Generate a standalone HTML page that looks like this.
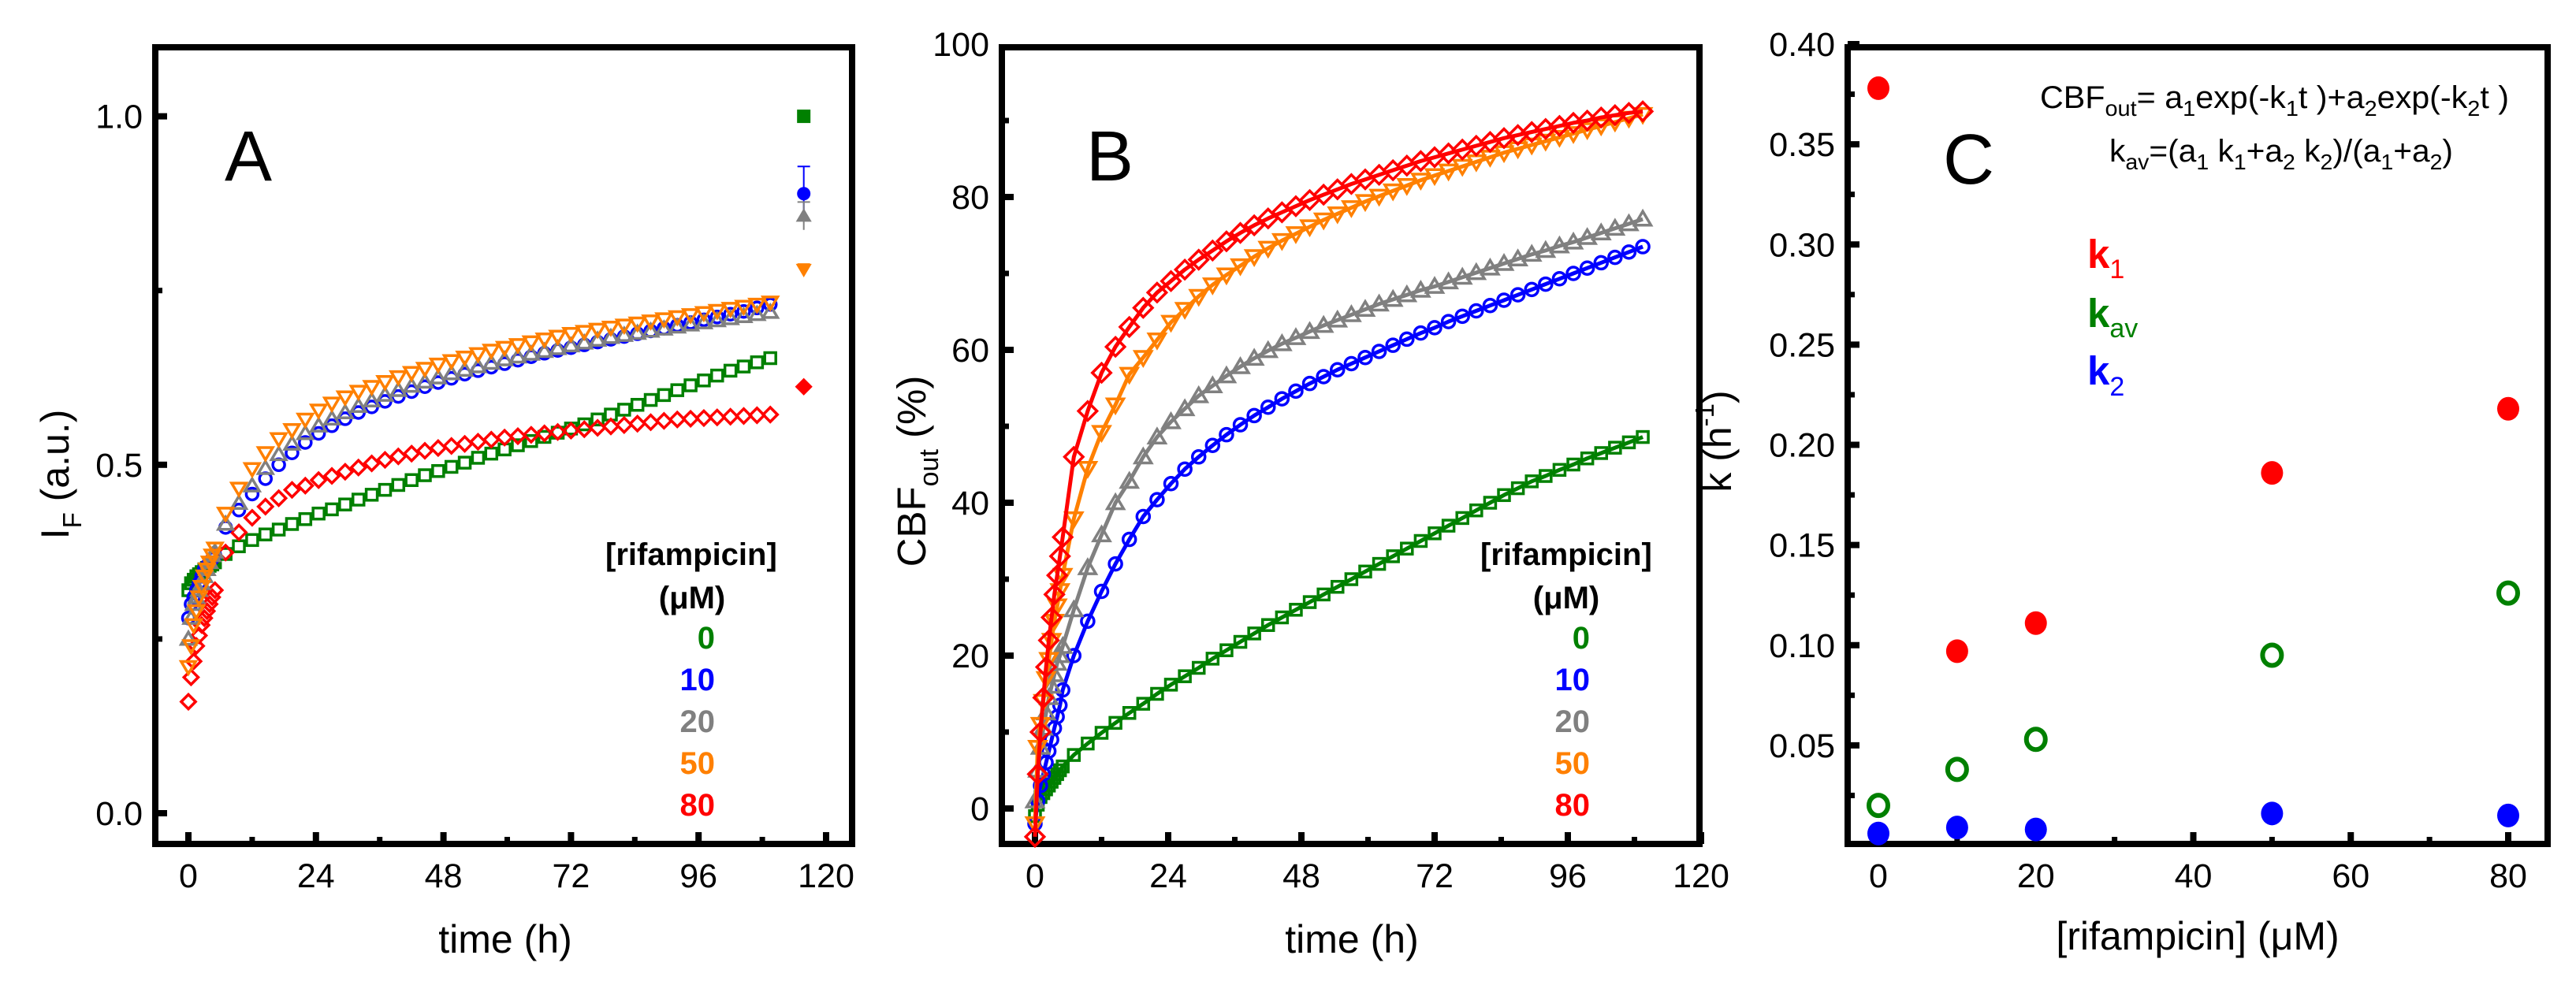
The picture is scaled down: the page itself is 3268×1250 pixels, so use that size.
<!DOCTYPE html>
<html><head><meta charset="utf-8"><style>
html,body{margin:0;padding:0;background:#fff}
svg{display:block;font-family:"Liberation Sans",Arial,sans-serif}
</style></head><body>
<svg id="fig" width="3268" height="1250" viewBox="0 0 3268 1250" xmlns="http://www.w3.org/2000/svg">
<rect x="0" y="0" width="3268" height="1250" fill="#fff"/>
<g id="gA"></g>
<g id="gB"></g>
<g id="gC"></g>

<!-- Panel A texts -->
<text x="285" y="229" font-size="90">A</text>
<text transform="translate(87,602) rotate(-90)" text-anchor="middle" font-size="50">I<tspan font-size="33" dy="16">F</tspan><tspan dy="-16"> (a.u.)</tspan></text>
<text x="641" y="1209" text-anchor="middle" font-size="50">time (h)</text>
<g font-weight="bold" font-size="40">
<text x="768" y="717">[rifampicin]</text>
<text x="878" y="772" text-anchor="middle">(μM)</text>
<text x="907" y="823" text-anchor="end" fill="#008000">0</text>
<text x="907" y="876" text-anchor="end" fill="#0000ff">10</text>
<text x="907" y="929" text-anchor="end" fill="#808080">20</text>
<text x="907" y="982" text-anchor="end" fill="#ff8000">50</text>
<text x="907" y="1035" text-anchor="end" fill="#ff0000">80</text>
</g>

<!-- Panel B texts -->
<text x="1378" y="229" font-size="90">B</text>
<text transform="translate(1174,598) rotate(-90)" text-anchor="middle" font-size="51">CBF<tspan font-size="34" dy="16">out</tspan><tspan dy="-16"> (%)</tspan></text>
<text x="1715" y="1209" text-anchor="middle" font-size="50">time (h)</text>
<g font-weight="bold" font-size="40">
<text x="1878" y="717">[rifampicin]</text>
<text x="1987" y="772" text-anchor="middle">(μM)</text>
<text x="2017" y="823" text-anchor="end" fill="#008000">0</text>
<text x="2017" y="876" text-anchor="end" fill="#0000ff">10</text>
<text x="2017" y="929" text-anchor="end" fill="#808080">20</text>
<text x="2017" y="982" text-anchor="end" fill="#ff8000">50</text>
<text x="2017" y="1035" text-anchor="end" fill="#ff0000">80</text>
</g>

<!-- Panel C texts -->
<text x="2465" y="233" font-size="90">C</text>
<text transform="translate(2196,560) rotate(-90)" text-anchor="middle" font-size="50">k (h<tspan font-size="33" dy="-22">-1</tspan><tspan dy="22">)</tspan></text>
<text x="2788" y="1205" text-anchor="middle" font-size="50">[rifampicin] (μM)</text>
<text x="2588" y="137" font-size="40" textLength="595" lengthAdjust="spacingAndGlyphs">CBF<tspan font-size="28" dy="10">out</tspan><tspan dy="-10">= a</tspan><tspan font-size="28" dy="10">1</tspan><tspan dy="-10">exp(-k</tspan><tspan font-size="28" dy="10">1</tspan><tspan dy="-10">t )+a</tspan><tspan font-size="28" dy="10">2</tspan><tspan dy="-10">exp(-k</tspan><tspan font-size="28" dy="10">2</tspan><tspan dy="-10">t )</tspan></text>
<text x="2676" y="205" font-size="40" textLength="436" lengthAdjust="spacingAndGlyphs">k<tspan font-size="28" dy="10">av</tspan><tspan dy="-10">=(a</tspan><tspan font-size="28" dy="10">1</tspan><tspan dy="-10"> k</tspan><tspan font-size="28" dy="10">1</tspan><tspan dy="-10">+a</tspan><tspan font-size="28" dy="10">2</tspan><tspan dy="-10"> k</tspan><tspan font-size="28" dy="10">2</tspan><tspan dy="-10">)/(a</tspan><tspan font-size="28" dy="10">1</tspan><tspan dy="-10">+a</tspan><tspan font-size="28" dy="10">2</tspan><tspan dy="-10">)</tspan></text>
<g>
<text x="2648" y="340" font-size="51" font-weight="bold" fill="#ff0000">k<tspan font-size="34" font-weight="normal" dy="13">1</tspan></text>
<text x="2648" y="415" font-size="51" font-weight="bold" fill="#008000">k<tspan font-size="34" font-weight="normal" dy="13">av</tspan></text>
<text x="2648" y="488" font-size="51" font-weight="bold" fill="#0000ff">k<tspan font-size="34" font-weight="normal" dy="14">2</tspan></text>
</g>
</svg>
<script>
// ---------- Panel A data ----------
var tA = [0,0.5,1,1.5,2,2.5,3,3.5,4,4.5,5,7,9.5,12,14.5,17,19.5,22,24.5,27,29.5,32,34.5,37,39.5,42,44.5,47,49.5,52,54.5,57,59.5,62,64.5,67,69.5,72,74.5,77,79.5,82,84.5,87,89.5,92,94.5,97,99.5,102,104.5,107,109.5];
var aGreen = [0.32,0.33,0.335,0.34,0.343,0.346,0.35,0.352,0.355,0.357,0.36,0.372,0.383,0.392,0.4,0.407,0.415,0.422,0.43,0.436,0.443,0.45,0.457,0.464,0.471,0.478,0.485,0.491,0.497,0.503,0.51,0.516,0.522,0.528,0.534,0.54,0.546,0.552,0.558,0.565,0.572,0.579,0.586,0.593,0.6,0.607,0.614,0.621,0.628,0.635,0.641,0.647,0.653];
var aBlue = [0.28,0.3,0.31,0.32,0.33,0.34,0.35,0.355,0.36,0.365,0.37,0.41,0.435,0.458,0.48,0.5,0.517,0.532,0.545,0.556,0.566,0.575,0.583,0.591,0.598,0.605,0.612,0.618,0.624,0.63,0.635,0.64,0.645,0.65,0.655,0.66,0.664,0.668,0.672,0.676,0.68,0.684,0.688,0.692,0.696,0.7,0.704,0.708,0.712,0.716,0.72,0.725,0.73];
var aGray = [0.25,0.28,0.3,0.31,0.32,0.33,0.34,0.35,0.36,0.37,0.375,0.415,0.445,0.47,0.495,0.515,0.53,0.545,0.556,0.566,0.575,0.584,0.592,0.6,0.607,0.613,0.619,0.625,0.631,0.636,0.641,0.646,0.651,0.655,0.659,0.663,0.667,0.671,0.675,0.679,0.683,0.686,0.689,0.692,0.695,0.698,0.701,0.704,0.707,0.71,0.713,0.716,0.719];
var aOrange = [0.21,0.24,0.27,0.29,0.31,0.325,0.34,0.35,0.36,0.37,0.38,0.43,0.466,0.494,0.517,0.537,0.55,0.565,0.578,0.588,0.597,0.605,0.612,0.619,0.626,0.632,0.638,0.644,0.649,0.654,0.659,0.664,0.668,0.672,0.676,0.68,0.684,0.688,0.691,0.694,0.697,0.7,0.703,0.706,0.709,0.712,0.715,0.718,0.721,0.724,0.727,0.73,0.733];
var aRed = [0.16,0.195,0.218,0.24,0.255,0.27,0.28,0.29,0.3,0.31,0.32,0.374,0.403,0.424,0.44,0.452,0.464,0.47,0.478,0.484,0.49,0.496,0.502,0.507,0.512,0.516,0.52,0.524,0.527,0.53,0.533,0.536,0.539,0.541,0.543,0.545,0.547,0.549,0.551,0.553,0.555,0.557,0.559,0.561,0.563,0.565,0.566,0.567,0.568,0.569,0.57,0.571,0.572];
var aFinalT = [115.8];
var aFinalVals = [1.0, 0.889, 0.857, 0.78, 0.612];
var aFinalErr = [0, 0.039, 0.02, 0.008, 0];
var aXTicks = [0,24,48,72,96,120];
var aYTicks = [0.0,0.5,1.0];
var aYTickLabels = ["0.0","0.5","1.0"];

// ---------- Panel B data ----------
var tB = tA;
var bGreen = [-1,0.5,1.5,2,2.5,3,3.5,4,4.5,5,5.5,7,8.5,9.9,11.2,12.5,13.7,15,16.2,17.3,18.4,19.6,20.7,21.8,22.9,24,25,26,27,28,29,30,31,32,33,34,35,36,37,38,39,40,41,41.9,42.8,43.5,44.3,45.0,45.8,46.5,47.2,47.9,48.6];
var bBlue = [-2,1,3,4.5,6,7.5,9,10.5,12,13.5,15.5,20,24.5,28.4,32,35.2,38.2,40.4,42.5,44.4,46,47.5,48.9,50.2,51.4,52.5,53.6,54.6,55.6,56.5,57.4,58.2,59,59.8,60.6,61.4,62.2,62.9,63.7,64.4,65.1,65.8,66.5,67.2,67.9,68.6,69.3,70,70.7,71.4,72.1,72.8,73.5];
var bGray = [1,5,8,10.5,12.5,14.5,16,17.5,19,20,21.2,26,31.5,35.8,40,42.8,46,48.6,50.6,52.3,54,55.3,56.6,57.8,58.9,59.9,60.8,61.6,62.4,63.2,63.9,64.6,65.3,66,66.6,67.2,67.8,68.3,68.9,69.5,70.1,70.7,71.3,71.9,72.5,73,73.6,74.1,74.7,75.3,75.9,76.5,77.1];
var bOrange = [-2,8,11,14,17,19.5,22,24.5,26.5,28.5,30.5,37.9,44.5,49.2,52.8,56.8,59,61.3,63.6,65.3,67,68.5,69.8,71,72.2,73.3,74.3,75.2,76.1,77,77.8,78.6,79.4,80.1,80.8,81.5,82.2,82.8,83.4,84,84.6,85.2,85.8,86.3,86.8,87.3,87.8,88.3,88.8,89.3,89.8,90.3,90.8];
var bRed = [-3.7,4.5,10,14.5,18.5,22,25,28,30.5,33,35.5,46,52,57,60.4,63,65.5,67.5,69,70.5,71.8,73,74.2,75.3,76.3,77.2,78,78.8,79.6,80.3,81,81.7,82.3,82.9,83.5,84.1,84.7,85.2,85.7,86.2,86.7,87.2,87.7,88.1,88.5,88.9,89.3,89.7,90,90.4,90.7,91,91.2];
var bXTicks = [0,24,48,72,96,120];
var bYTicks = [0,20,40,60,80,100];
var bYTickLabels = ["0","20","40","60","80","100"];

// ---------- Panel C data ----------
var cConc = [0,10,20,50,80];
var cK1 = [0.378,0.097,0.111,0.186,0.218];
var cKav = [0.020,0.038,0.053,0.095,0.126];
var cK2 = [0.006,0.009,0.008,0.016,0.015];
var cXTicks = [0,20,40,60,80];
var cYTicks = [0.05,0.10,0.15,0.20,0.25,0.30,0.35,0.40];
var cYTickLabels = ["0.05","0.10","0.15","0.20","0.25","0.30","0.35","0.40"];

var NS = "http://www.w3.org/2000/svg";
function mk(tag, attrs, parent){
  var e = document.createElementNS(NS, tag);
  for (var k in attrs) e.setAttribute(k, attrs[k]);
  parent.appendChild(e); return e;
}
function lin(d0,d1,r0,r1){ return function(v){ return r0 + (v-d0)*(r1-r0)/(d1-d0); }; }

function axes(g, box, xs, ys, xTicks, xLabels, xMinor, yTicks, yLabels, yMinor, pfx){
  var f = mk('rect', {x:box.l, y:box.t, width:box.r-box.l, height:box.b-box.t, fill:'none', stroke:'#000', 'stroke-width':8}, g);
  
  
  xTicks.forEach(function(v,i){
    var x = xs(v);
    var t = mk('line', {x1:x, x2:x, y1:box.b, y2:box.b-15, stroke:'#000', 'stroke-width':8}, g);
    
    
    var tx = mk('text', {x:x, y:box.b+55, 'text-anchor':'middle', 'font-size':43}, g);
    tx.textContent = xLabels[i];
    
    
  });
  xMinor.forEach(function(v){
    var x = xs(v);
    var t = mk('line', {x1:x, x2:x, y1:box.b, y2:box.b-9, stroke:'#000', 'stroke-width':7}, g);
    
    
  });
  yTicks.forEach(function(v,i){
    var y = ys(v);
    var t = mk('line', {x1:box.l, x2:box.l+15, y1:y, y2:y, stroke:'#000', 'stroke-width':8}, g);
    
    
    var tx = mk('text', {x:box.l-16, y:y+15, 'text-anchor':'end', 'font-size':43}, g);
    tx.textContent = yLabels[i];
    
    
  });
  yMinor.forEach(function(v){
    var y = ys(v);
    var t = mk('line', {x1:box.l, x2:box.l+9, y1:y, y2:y, stroke:'#000', 'stroke-width':7}, g);
    
    
  });
}

function marker(g, shape, x, y, s, color, filled, sw){
  var fill = filled ? color : 'none';
  var e;
  if (shape === 'square') e = mk('rect', {x:x-s, y:y-s, width:2*s, height:2*s, fill:fill, stroke:color, 'stroke-width':sw}, g);
  else if (shape === 'circle') e = mk('circle', {cx:x, cy:y, r:s, fill:fill, stroke:color, 'stroke-width':sw}, g);
  else if (shape === 'up') e = mk('polygon', {points:(x)+','+(y-s*1.1)+' '+(x-s*1.15)+','+(y+s*0.85)+' '+(x+s*1.15)+','+(y+s*0.85), fill:fill, stroke:color, 'stroke-width':sw}, g);
  else if (shape === 'down') e = mk('polygon', {points:(x)+','+(y+s*1.1)+' '+(x-s*1.15)+','+(y-s*0.85)+' '+(x+s*1.15)+','+(y-s*0.85), fill:fill, stroke:color, 'stroke-width':sw}, g);
  else e = mk('polygon', {points:x+','+(y-s*1.3)+' '+(x+s*1.3)+','+y+' '+x+','+(y+s*1.3)+' '+(x-s*1.3)+','+y, fill:fill, stroke:color, 'stroke-width':sw}, g);
  return e;
}

function series(g, ts, vals, xs, ys, shape, color, name, size, line){
  var sg = mk('g', {}, g);
  
  
  for (var i=0;i<ts.length;i++){
    var m = marker(sg, shape, xs(ts[i]), ys(vals[i]), size, color, false, 3.5);
    
    
  }
  if (line){
    var pts = ts.map(function(t,i){ return xs(t).toFixed(1)+','+ys(vals[i]).toFixed(1); }).join(' ');
    var pl = mk('polyline', {points:pts, fill:'none', stroke:color, 'stroke-width':5, 'stroke-linejoin':'round'}, sg);
    
    
  }
}

var colors = {green:'#008000', blue:'#0000ff', gray:'#808080', orange:'#ff8000', red:'#ff0000'};

// Panel A
(function(){
  var g = document.getElementById('gA');
  var box = {l:197, r:1081, t:60, b:1071};
  var xs = lin(0,120,239,1048), ys = lin(0,1,1032,147.6);
  axes(g, box, xs, ys, aXTicks, aXTicks.map(String), [12,36,60,84,108], aYTicks, aYTickLabels, [0.25,0.75], 'panel-a');
  series(g, tA, aGreen, xs, ys, 'square', colors.green, 'series-a-0uM', 7, false);
  series(g, tA, aRed, xs, ys, 'diamond', colors.red, 'series-a-80uM', 7, false);
  series(g, tA, aBlue, xs, ys, 'circle', colors.blue, 'series-a-10uM', 7.5, false);
  series(g, tA, aGray, xs, ys, 'up', colors.gray, 'series-a-20uM', 8, false);
  series(g, tA, aOrange, xs, ys, 'down', colors.orange, 'series-a-50uM', 8, false);
  var shapes = ['square','circle','up','down','diamond'];
  var cols = [colors.green, colors.blue, colors.gray, colors.orange, colors.red];
  var names = ['0uM','10uM','20uM','50uM','80uM'];
  for (var i=0;i<aFinalVals.length;i++){
    var x = xs(aFinalT[0]), y = ys(aFinalVals[i]);
    if (aFinalErr[i] > 0){
      var eb = mk('line', {x1:x, x2:x, y1:ys(aFinalVals[i]+aFinalErr[i]), y2:ys(aFinalVals[i]-aFinalErr[i]), stroke:cols[i], 'stroke-width':2}, g);
      
      
      var cap = mk('line', {x1:x-8, x2:x+8, y1:ys(aFinalVals[i]+aFinalErr[i]), y2:ys(aFinalVals[i]+aFinalErr[i]), stroke:cols[i], 'stroke-width':2}, g);
      
      
    }
    var m = marker(g, shapes[i], x, y, 8, cols[i], true, 1);
    
    
  }
})();

// Panel B
(function(){
  var g = document.getElementById('gB');
  var box = {l:1271, r:2156, t:60, b:1071};
  var xs = lin(0,120,1313,2158), ys = lin(0,100,1026,56);
  axes(g, box, xs, ys, bXTicks, bXTicks.map(String), [12,36,60,84,108], bYTicks.slice(0,5), bYTickLabels.slice(0,5), [10,30,50,70,90], 'panel-b');
  var t100 = mk('text', {x:1255, y:71, 'text-anchor':'end', 'font-size':43}, g);
  t100.textContent = bYTickLabels[5];
  
  
  series(g, tB, bGreen, xs, ys, 'square', colors.green, 'series-b-0uM', 7, true);
  series(g, tB, bBlue, xs, ys, 'circle', colors.blue, 'series-b-10uM', 8, true);
  series(g, tB, bGray, xs, ys, 'up', colors.gray, 'series-b-20uM', 9, true);
  series(g, tB, bOrange, xs, ys, 'down', colors.orange, 'series-b-50uM', 9, true);
  series(g, tB, bRed, xs, ys, 'diamond', colors.red, 'series-b-80uM', 9, true);
})();

// Panel C
(function(){
  var g = document.getElementById('gC');
  var box = {l:2344, r:3232, t:60, b:1071};
  var xs = lin(0,80,2383,3182), ys = lin(0,0.4,1073,56);
  var ym = [0.025,0.075,0.125,0.175,0.225,0.275,0.325,0.375];
  axes(g, box, xs, ys, cXTicks, cXTicks.map(String), [10,30,50,70], cYTicks, cYTickLabels, ym, 'panel-c');
  function dots(vals, color, filled, name){
    var sg = mk('g', {}, g);
    
    
    for (var i=0;i<cConc.length;i++){
      var e = mk('ellipse', {cx:xs(cConc[i]), cy:ys(vals[i]), rx: filled?14:12, ry: filled?15:13, fill: filled?color:'none', stroke:color, 'stroke-width': filled?0:6}, sg);
      
      
    }
  }
  dots(cK1, colors.red, true, 'series-k1');
  dots(cKav, colors.green, false, 'series-kav');
  dots(cK2, colors.blue, true, 'series-k2');
})();
</script>
</body></html>
